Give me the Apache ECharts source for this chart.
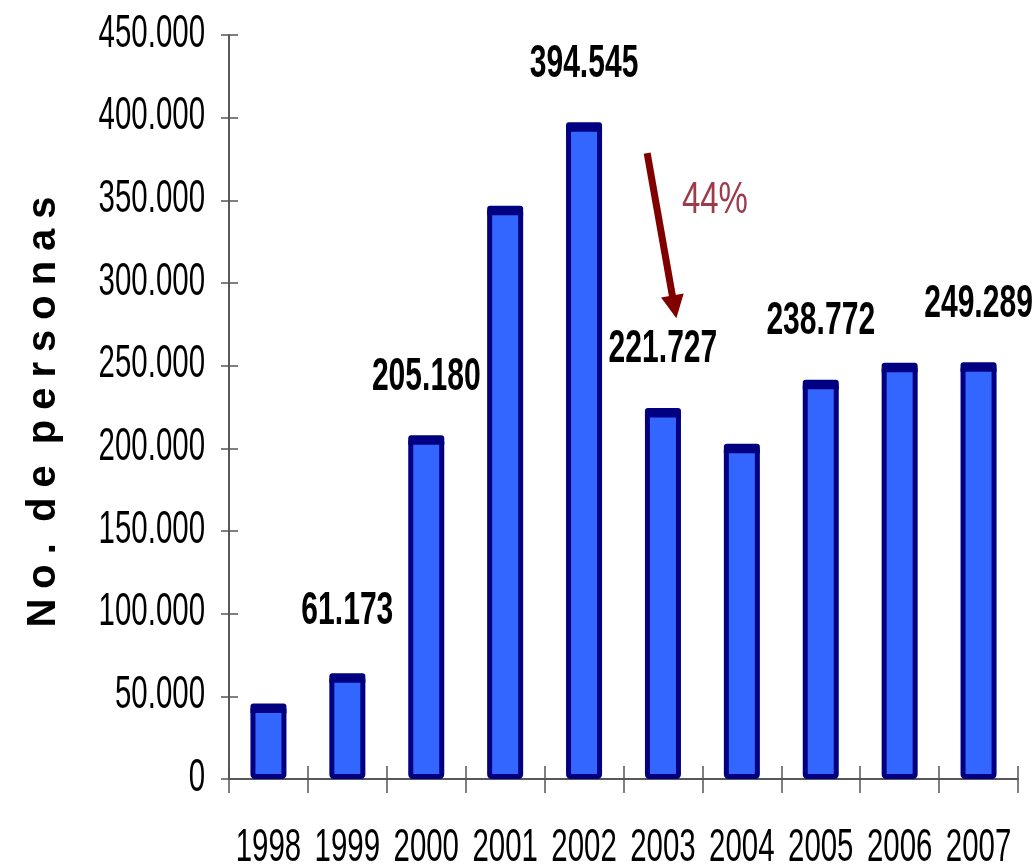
<!DOCTYPE html>
<html>
<head>
<meta charset="utf-8">
<script src="https://cdn.jsdelivr.net/npm/echarts@6/dist/echarts.min.js"></script>
<style>
  html, body { margin: 0; padding: 0; background: #fff; }
  #chart { width: 1033px; height: 867px; }
</style>
</head>
<body>
<div id="chart"></div>
<script>
// ---- data ----
const years = ['1998', '1999', '2000', '2001', '2002', '2003', '2004', '2005', '2006', '2007'];
const persons = [43000, 61173, 205180, 344000, 394545, 221727, 200000, 238772, 249000, 249289];
const shownLabels = [null, '61.173', '205.180', null, '394.545', '221.727', null, '238.772', null, '249.289'];
const yTickValues = [0, 50000, 100000, 150000, 200000, 250000, 300000, 350000, 400000, 450000];
const yTickLabels = ['0', '50.000', '100.000', '150.000', '200.000', '250.000', '300.000', '350.000', '400.000', '450.000'];
const yMin = 0, yMax = 450000, yInterval = 50000;
const axisTitle = 'No. de personas';
const dropText = '44%';
// arrow annotation in data space: [category index (fractional), value]
const arrowFrom = [4.80, 378600];
const arrowTo = [5.17, 278700];
const dropTextAt = [5.24, 349500];

// ---- styles ----
const FONT = '"Liberation Sans", Arial, sans-serif';
const labelGap = { '1999': 67 };
const defaultGap = 63;

function spaced(t) {
  return t.split(' ').map(w => w.split('').join('\u2005')).join('\u2005 ');
}

const chart = echarts.init(document.getElementById('chart'), null, { renderer: 'canvas' });

function renderItem(params, api) {
  const i = api.value(0), v = api.value(1);
  const top = api.coord([i, v]);
  const base = api.coord([i, 0]);
  const bw = api.size([1, 0])[0] * 0.393;
  const x0 = top[0] - bw / 2;
  const children = [
    { type: 'rect', shape: { x: x0, y: top[1], width: bw, height: base[1] - top[1] - 2.5, r: 2 },
      style: { fill: '#3366FF', stroke: '#000080', lineWidth: 5 } },
    { type: 'rect', shape: { x: x0 - 2.5, y: top[1] - 4.5, width: bw + 5, height: 9.5, r: [3, 3, 0, 0] },
      style: { fill: '#000080' } }
  ];
  const lbl = shownLabels[i];
  if (lbl) {
    const gap = labelGap[years[i]] || defaultGap;
    children.push({ type: 'text', x: top[0], y: top[1] - gap, scaleX: 0.64,
      style: { text: lbl, font: 'bold 47px ' + FONT, fill: '#000', align: 'center', verticalAlign: 'middle' } });
  }
  return { type: 'group', children };
}

const GRID = { left: 229, right: 15, top: 35, bottom: 88, containLabel: false, outerBoundsMode: 'none' };
const gridW = 1033 - GRID.left - GRID.right;
const gridH = 867 - GRID.top - GRID.bottom;

chart.setOption({
  animation: false,
  backgroundColor: '#fff',
  grid: GRID,
  xAxis: [
    { type: 'category', data: years, boundaryGap: true, position: 'bottom',
      axisLine: { lineStyle: { color: '#222', width: 1.5 } },
      axisTick: { show: true, length: 14, lineStyle: { color: '#555', width: 1.5 } },
      axisLabel: { show: false },
      splitLine: { show: false } },
    { type: 'category', data: years, boundaryGap: true, position: 'top', offset: -gridH,
      axisLine: { show: false },
      axisTick: { show: true, length: 13, lineStyle: { color: '#555', width: 1.5 } },
      axisLabel: { show: false }, splitLine: { show: false } }
  ],
  yAxis: [
    { type: 'value', min: yMin, max: yMax, interval: yInterval, position: 'left',
      name: spaced(axisTitle), nameLocation: 'middle', nameRotate: 90, nameGap: 165,
      nameTextStyle: { fontFamily: FONT, fontWeight: 'bold', fontSize: 40, color: '#000', padding: [0, 10, 0, 0] },
      axisLine: { show: true, lineStyle: { color: '#222', width: 1.5 } },
      axisTick: { show: true, length: 8, lineStyle: { color: '#555', width: 1.5 } },
      axisLabel: { show: false },
      splitLine: { show: false } },
    { type: 'value', min: yMin, max: yMax, interval: yInterval, position: 'right', offset: -gridW,
      axisLine: { show: false },
      axisTick: { show: true, length: 9, lineStyle: { color: '#555', width: 1.5 } },
      axisLabel: { show: false }, splitLine: { show: false } }
  ],
  series: [{
    type: 'custom',
    xAxisIndex: 0, yAxisIndex: 0,
    renderItem: renderItem,
    clip: false,
    data: persons.map((v, i) => [i, v])
  }]
});

function toPx(pt) {
  const a = chart.convertToPixel({ xAxisIndex: 0, yAxisIndex: 0 }, [0, pt[1]]);
  const b = chart.convertToPixel({ xAxisIndex: 0, yAxisIndex: 0 }, [1, pt[1]]);
  return [a[0] + pt[0] * (b[0] - a[0]), a[1]];
}

const graphics = [];

// y tick labels (horizontally condensed text)
const axisLeft = toPx([-0.5, 0])[0];
const axisBottom = toPx([0, 0])[1];
yTickValues.forEach((v, k) => {
  const p = toPx([0, v]);
  graphics.push({ type: 'text', x: axisLeft - 24, y: p[1] - 1, scaleX: 0.64, silent: true,
    style: { text: yTickLabels[k], font: '46px ' + FONT, fill: '#000', align: 'right', verticalAlign: 'middle' } });
});
// x category labels
years.forEach((yr, i) => {
  const p = toPx([i, 0]);
  graphics.push({ type: 'text', x: p[0], y: axisBottom + 69, scaleX: 0.64, silent: true,
    style: { text: yr, font: '46px ' + FONT, fill: '#000', align: 'center', verticalAlign: 'middle' } });
});

// arrow
const s = toPx(arrowFrom), t = toPx(arrowTo);
const dx = t[0] - s[0], dy = t[1] - s[1];
const len = Math.sqrt(dx * dx + dy * dy);
const ux = dx / len, uy = dy / len;
const headLen = 23, headHalf = 11.5;
const hb = [t[0] - ux * headLen, t[1] - uy * headLen];
const txt = toPx(dropTextAt);

graphics.push(
  { type: 'line', shape: { x1: s[0], y1: s[1], x2: hb[0] + ux * 2, y2: hb[1] + uy * 2 },
    style: { stroke: '#800000', lineWidth: 7 } },
  { type: 'polygon', shape: { points: [
      [t[0], t[1]],
      [hb[0] - uy * headHalf, hb[1] + ux * headHalf],
      [hb[0] + uy * headHalf, hb[1] - ux * headHalf]
    ] }, style: { fill: '#800000' } },
  { type: 'text', x: txt[0], y: txt[1], scaleX: 0.75,
    style: { text: dropText, font: '44px ' + FONT, fill: '#9E3B4B', align: 'left', verticalAlign: 'middle' } }
);

chart.setOption({ graphic: graphics });
</script>
</body>
</html>
